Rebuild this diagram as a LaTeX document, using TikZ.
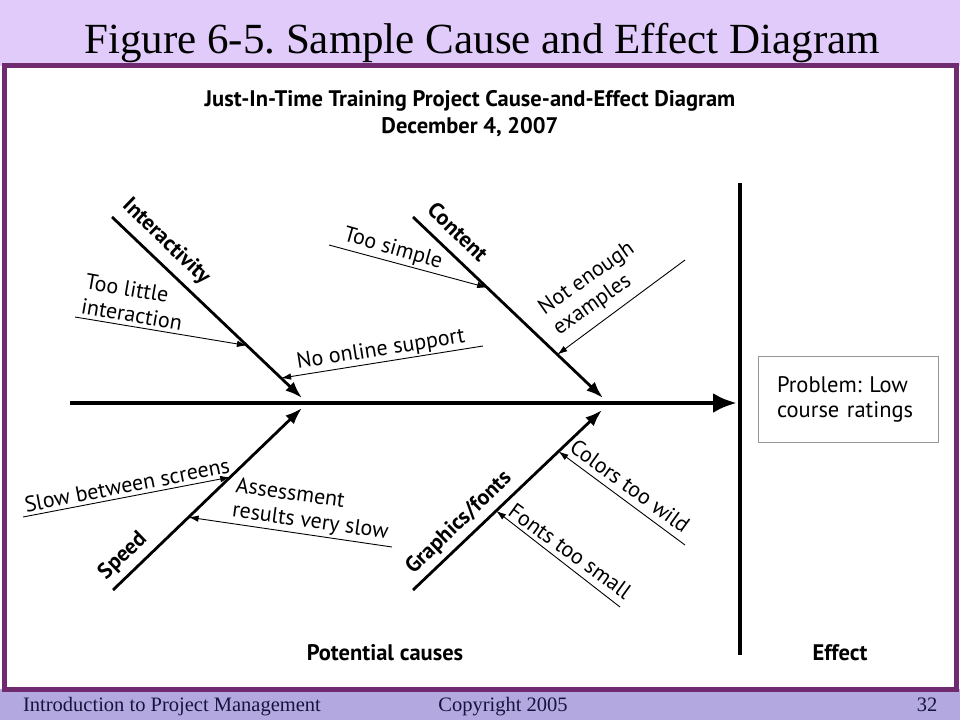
\documentclass[tikz,border=0pt]{standalone}
\usepackage{fontspec}
\setmainfont{Liberation Serif}
\newfontfamily\diafont{PT Sans}
\usetikzlibrary{arrows.meta}
\usetikzlibrary{calc}
\definecolor{hlav}{RGB}{225,203,250}
\definecolor{hblue}{RGB}{180,168,225}
\definecolor{hpurp}{RGB}{112,42,112}
\definecolor{hgrey}{RGB}{150,150,150}
\definecolor{hnavy}{RGB}{20,20,60}
\frenchspacing
\tikzset{
bone/.style={line width=2.8pt,-{Latex[length=17pt,width=12pt]}},
twig/.style={line width=0.9pt,-{Latex[length=10pt,width=6.5pt]}},
cause/.style={font=\diafont\fontsize{22}{25}\selectfont,inner sep=0pt,align=left},
group/.style={font=\diafont\bfseries\fontsize{22}{25}\selectfont,inner sep=0pt},
foot/.style={font=\fontsize{20.5}{22}\selectfont,text=hnavy,anchor=base,inner sep=0pt},
}

\begin{document}
\begin{tikzpicture}[x=1pt,y=-1pt]
\useasboundingbox (0,0) rectangle (960,720);
\fill[hlav] (0,0) rectangle (960,66);
\fill[hblue] (0,689) rectangle (960,720);
\draw[hpurp,line width=5pt] (4.5,65.5) rectangle (956.5,689.5);
\node[font=\fontsize{43}{48}\selectfont,anchor=base,inner sep=0pt] (fig) at (482,53) {Figure 6-5. Sample Cause and Effect Diagram};
\node[foot] (intro) at (172,711) {Introduction to Project Management};
\node[foot] (copy) at (503,711) {Copyright 2005};
\node[foot] (page) at (927,711) {32};
\node[group,align=center,font=\diafont\bfseries\fontsize{22.5}{27}\selectfont] (head1) at (470,114) {Just-In-Time Training Project Cause-and-Effect Diagram\\December 4, 2007};
\node[group,font=\diafont\bfseries\fontsize{22.5}{25}\selectfont] (pot) at (385,653) {Potential causes};
\node[group,font=\diafont\bfseries\fontsize{22.5}{25}\selectfont] (eff) at (840,653) {Effect};
% spine and effect
\coordinate (tail) at (70,403);
\coordinate (head) at (737,403);
\coordinate (vt) at (740,183);
\coordinate (vb) at (740,655);
\draw[line width=4.8pt,-{Latex[length=24pt,width=20pt]}] (tail) -- (head);
\draw[line width=4pt] (vt) -- (vb);
\node[draw=hgrey,line width=0.8pt,cause,text width=142pt,inner xsep=19pt,minimum height=86pt,font=\diafont\fontsize{22.5}{25}\selectfont] (prob) at (848,399) {Problem: Low\\course ratings};
% bones
\coordinate (i0) at (112,217);
\coordinate (i1) at (302,398);
\coordinate (c0) at (413,217);
\coordinate (c1) at (603,398);
\coordinate (s0) at (113,590);
\coordinate (s1) at (302,408);
\coordinate (g0) at (413,590);
\coordinate (g1) at (602,410);
\draw[bone] (i0) -- (i1);
\draw[bone] (c0) -- (c1);
\draw[bone] (s0) -- (s1);
\draw[bone] (g0) -- (g1);
\node[group,rotate=-44] (inter) at (166,242) {Interactivity};
\node[group,rotate=-44] (cont) at (458,232) {Content};
\node[group,rotate=44] (speed) at (123,556) {Speed};
\node[group,rotate=44] (graph) at (459,523) {Graphics/fonts};
% twigs
\coordinate (t1) at (75,317);
\coordinate (t2) at (483,346);
\coordinate (t3) at (329,245);
\coordinate (t4) at (685,260);
\coordinate (t5) at (23,517);
\coordinate (t6) at (392,547);
\coordinate (t7) at (685,545);
\coordinate (t8) at (620,607);
\draw[twig] (t1) -- ($(i0)!0.71!(i1)$);
\draw[twig] (t2) -- ($(i0)!0.89!(i1)$);
\draw[twig] (t3) -- ($(c0)!0.39!(c1)$);
\draw[twig] (t4) -- ($(c0)!0.76!(c1)$);
\draw[twig] (t5) -- ($(s0)!0.62!(s1)$);
\draw[twig] (t6) -- ($(s0)!0.40!(s1)$);
\draw[twig] (t7) -- ($(g0)!0.77!(g1)$);
\draw[twig] (t8) -- ($(g0)!0.44!(g1)$);
\node[cause,rotate=-10] (little) at (134,302) {Too little\\interaction};
\node[cause,rotate=9] (online) at (381,350) {No online support};
\node[cause,rotate=-16] (simple) at (393,249) {Too simple};
\node[cause,rotate=35] (enough) at (594,289) {Not enough\\examples};
\node[cause,rotate=11] (slow) at (127,485) {Slow between screens};
\node[cause,rotate=-8] (assess) at (312,510) {Assessment\\results very slow};
\node[cause,rotate=-36] (colors) at (630,486) {Colors too wild};
\node[cause,rotate=-36] (fonts) at (570,551) {Fonts too small};
\end{tikzpicture}
\end{document}
